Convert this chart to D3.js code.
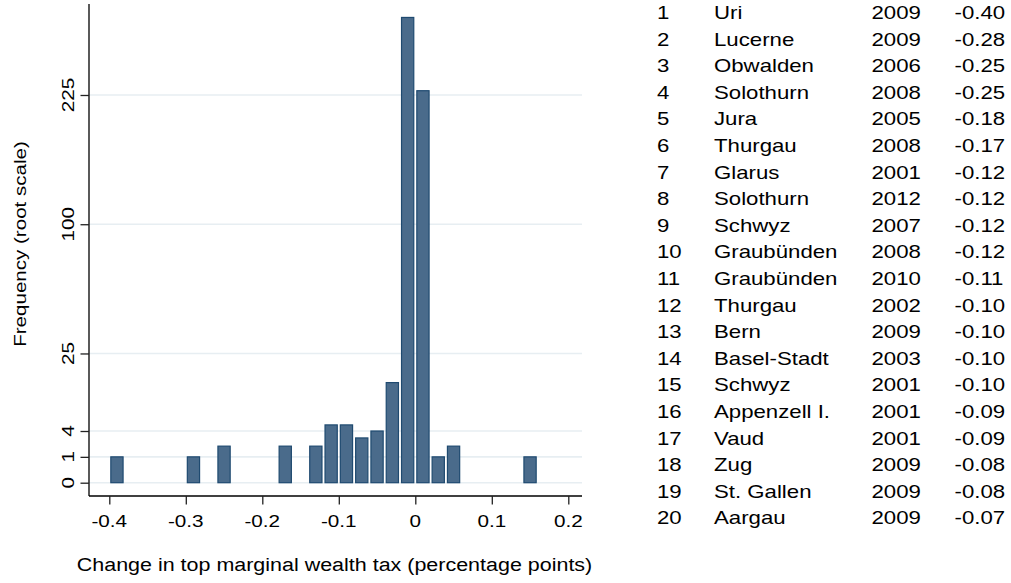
<!DOCTYPE html>
<html>
<head>
<meta charset="utf-8">
<script src="https://cdn.jsdelivr.net/npm/d3@7"></script>
<style>
  html, body { margin: 0; padding: 0; background: #fff; }
  svg { display: block; }
  text { font-family: "Liberation Sans", Arial, Helvetica, sans-serif; fill: #000; }
</style>
</head>
<body>
<svg id="chart" width="1011" height="583"></svg>
<script>
// ---- Data ----
const binCenters = [-0.39, -0.29, -0.25, -0.17, -0.13, -0.11, -0.09, -0.07, -0.05, -0.03, -0.01, 0.01, 0.03, 0.05, 0.15];
const frequencies = [1, 1, 2, 2, 2, 5, 5, 3, 4, 15, 324, 230, 1, 2, 1];
const xTicks = [-0.4, -0.3, -0.2, -0.1, 0, 0.1, 0.2];
const xTickLabels = ["-0.4", "-0.3", "-0.2", "-0.1", "0", "0.1", "0.2"];
const yTicks = [0, 1, 4, 25, 100, 225];
const yTickLabels = ["0", "1", "4", "25", "100", "225"];

const ranks = [1,2,3,4,5,6,7,8,9,10,11,12,13,14,15,16,17,18,19,20];
const cantons = ["Uri","Lucerne","Obwalden","Solothurn","Jura","Thurgau","Glarus","Solothurn","Schwyz","Graubünden","Graubünden","Thurgau","Bern","Basel-Stadt","Schwyz","Appenzell I.","Vaud","Zug","St. Gallen","Aargau"];
const years = [2009,2009,2006,2008,2005,2008,2001,2012,2007,2008,2010,2002,2009,2003,2001,2001,2001,2009,2009,2009];
const changes = ["-0.40","-0.28","-0.25","-0.25","-0.18","-0.17","-0.12","-0.12","-0.12","-0.12","-0.11","-0.10","-0.10","-0.10","-0.10","-0.09","-0.09","-0.08","-0.08","-0.07"];

const xTitle = "Change in top marginal wealth tax (percentage points)";
const yTitle = "Frequency (root scale)";

// ---- Layout ----
const svg = d3.select("#chart");
const plotLeft = 89, plotRight = 582, plotTop = 4, plotBottom = 496;

const x = d3.scaleLinear().domain([-0.4, 0.2]).range([109.3, 568.3]);
const y = d3.scaleSqrt().domain([0, 343]).range([482.7, 4]);
const halfBar = 0.008;

function addText(parent, tx, ty, str, size, sx, anchor, rot) {
  const g = parent.append("g")
    .attr("transform", `translate(${tx},${ty})` + (rot ? ` rotate(${rot})` : "") + ` scale(${sx},1)`);
  g.append("text").attr("x", 0).attr("y", 0)
    .attr("font-size", size).attr("text-anchor", anchor).text(str);
  return g;
}

// gridlines
svg.append("g").selectAll("line").data(yTicks).join("line")
  .attr("x1", plotLeft).attr("x2", plotRight)
  .attr("y1", d => y(d)).attr("y2", d => y(d))
  .attr("stroke", "#e7eef2").attr("stroke-width", 1.6);

// bars
svg.append("g").selectAll("rect").data(binCenters).join("rect")
  .attr("x", (d) => x(d - halfBar))
  .attr("width", (d) => x(d + halfBar) - x(d - halfBar))
  .attr("y", (d, i) => y(frequencies[i]))
  .attr("height", (d, i) => y(0) - y(frequencies[i]))
  .attr("fill", "#4a6b8b")
  .attr("stroke", "#1f4a70")
  .attr("stroke-width", 1.2);

// axes lines
svg.append("line").attr("x1", plotLeft).attr("x2", plotLeft).attr("y1", plotTop).attr("y2", plotBottom)
  .attr("stroke", "#000").attr("stroke-width", 1.3);
svg.append("line").attr("x1", plotLeft).attr("x2", plotRight).attr("y1", plotBottom).attr("y2", plotBottom)
  .attr("stroke", "#000").attr("stroke-width", 1.3);

// y ticks
const yAxis = d3.axisLeft(y).tickValues(yTicks).tickSize(8.5).tickFormat("");
const yg = svg.append("g").attr("transform", `translate(${plotLeft},0)`).call(yAxis);
yg.select(".domain").remove();
yg.selectAll(".tick line").attr("stroke", "#222").attr("stroke-width", 1.3);
yTicks.forEach((t, i) => addText(svg, 73.5, y(t), yTickLabels[i], 16.9, 1.225, "middle", -90));

// x ticks
const xAxis = d3.axisBottom(x).tickValues(xTicks).tickSize(8.5).tickFormat("");
const xg = svg.append("g").attr("transform", `translate(0,${plotBottom})`).call(xAxis);
xg.select(".domain").remove();
xg.selectAll(".tick line").attr("stroke", "#222").attr("stroke-width", 1.3);
xTicks.forEach((t, i) => addText(svg, x(t), 527, xTickLabels[i], 16.9, 1.225, "middle", 0));

// titles
addText(svg, 334.5, 571, xTitle, 17.6, 1.22, "middle", 0);
addText(svg, 26, 244, yTitle, 16.9, 1.217, "middle", -90);

// table
const rowY = d3.scaleLinear().domain([1, 20]).range([19, 524.4]);
const tbl = svg.append("g");
ranks.forEach((r, i) => {
  const yy = rowY(r);
  addText(tbl, 657, yy, String(r), 18.2, 1.22, "start", 0);
  addText(tbl, 714, yy, cantons[i], 18.2, 1.22, "start", 0);
  addText(tbl, 871.5, yy, String(years[i]), 18.2, 1.22, "start", 0);
  addText(tbl, 954.5, yy, changes[i], 18.2, 1.22, "start", 0);
});
</script>
</body>
</html>
